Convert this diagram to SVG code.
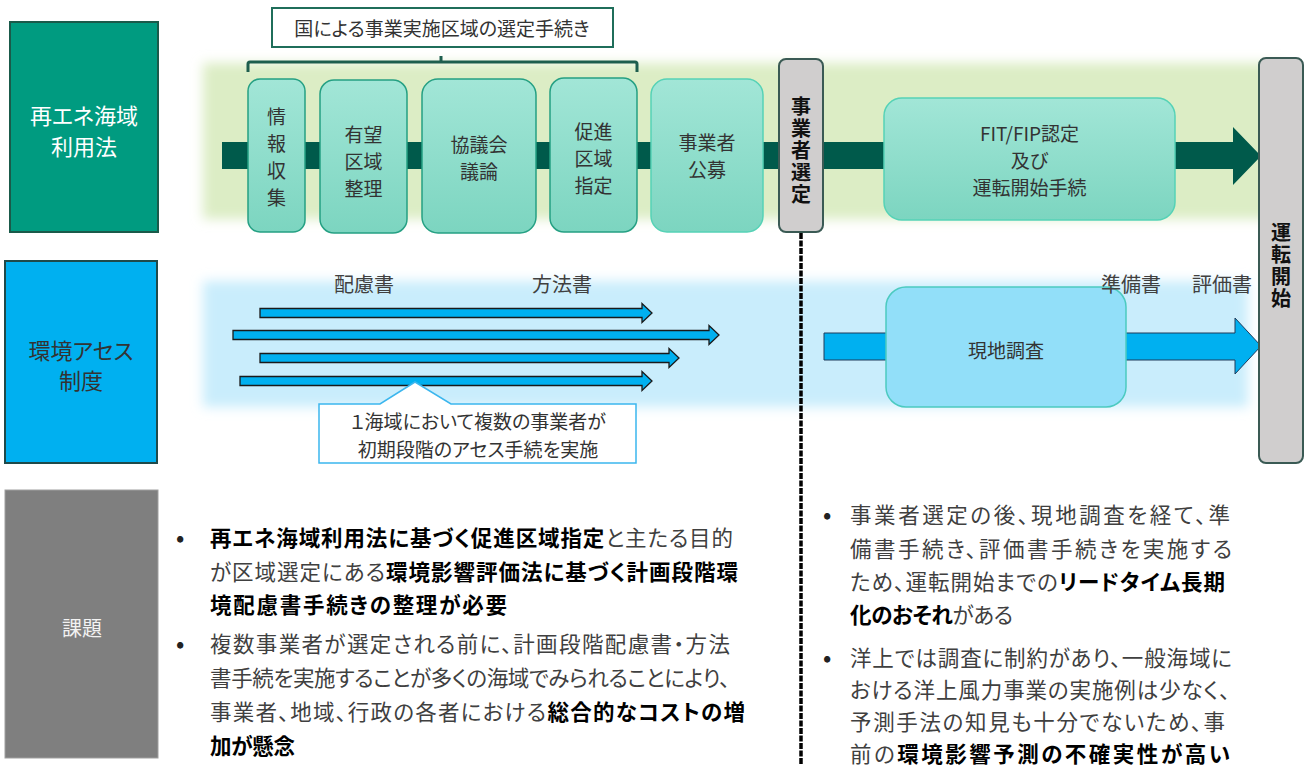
<svg xmlns="http://www.w3.org/2000/svg" width="1308" height="765" viewBox="0 0 1308 765">
<defs>
<style>
text { font-family: "Noto Sans CJK JP", "Noto Sans", sans-serif; font-feature-settings: "palt"; dominant-baseline: central; }
.box { font-size: 19px; fill: #333; text-anchor: middle; }
.lab { font-size: 20px; fill: #404040; text-anchor: middle; }
.bar { font-size: 20px; font-weight: bold; fill: #111; text-anchor: middle; writing-mode: vertical-rl; text-orientation: upright; letter-spacing: 2px; font-feature-settings: normal; }
.body { font-size: 21.5px; fill: #404040; }
.bul { font-size: 22px; font-weight: bold; fill: #222; }
.b { font-weight: bold; fill: #000; }
.teal { fill: url(#tg); stroke: #25a083; stroke-width: 1.5; }
.teal2 { fill: url(#tg); stroke: #55d2b6; stroke-width: 1.5; }
.gray { fill: #d0cece; stroke: #3a5a54; stroke-width: 2; }
.thin { fill: #00b0f0; stroke: #1a1a1a; stroke-width: 1.3; }
</style>
<linearGradient id="tg" x1="0" y1="0" x2="0" y2="1">
<stop offset="0" stop-color="#a2e6d7"/>
<stop offset="1" stop-color="#7cd5c0"/>
</linearGradient>
<filter id="soft" x="-5%" y="-20%" width="110%" height="140%">
<feGaussianBlur stdDeviation="6"/>
</filter>
</defs>
<rect width="1308" height="765" fill="#ffffff"/>

<g id="bands">
<rect x="203" y="63" width="1080" height="156" fill="#dcedc5" filter="url(#soft)"/>
<rect x="203" y="281" width="1045" height="126" fill="#c9edfc" filter="url(#soft)"/>
</g>

<g id="left-labels">
<g id="label-law">
<rect x="10" y="22" width="148" height="210" fill="#009b80" stroke="#1a5a4a" stroke-width="2"/>
<text x="84" y="114" font-size="22" fill="#fff" text-anchor="middle">再エネ海域</text>
<text x="84" y="145" font-size="22" fill="#fff" text-anchor="middle">利用法</text>
</g>
<g id="label-assess">
<rect x="5" y="261" width="152" height="202" fill="#00b0f0" stroke="#1f4a4a" stroke-width="2"/>
<text x="81" y="349" font-size="22" fill="#333" text-anchor="middle">環境アセス</text>
<text x="81" y="379" font-size="22" fill="#333" text-anchor="middle">制度</text>
</g>
<g id="label-issue">
<rect x="5" y="490" width="153" height="268" fill="#7f7f7f" stroke="#a0a0a0" stroke-width="1"/>
<text x="82" y="627" font-size="20" fill="#f2f2f2" text-anchor="middle">課題</text>
</g>
</g>

<g id="connectors">
<path d="M222,142 H1233 V127 L1261,156 L1233,185 V169 H222 Z" fill="#005a4b"/>
<path d="M248,72 V64 Q248,62 250,62 H635 Q637,62 637,64 V72 M441,62 V56" fill="none" stroke="#1e5e4e" stroke-width="3"/>
<path class="thin" d="M260,308.5 H642 V303.5 L652,313 L642,322.5 V317.5 H260 Z"/>
<path class="thin" d="M233,330.5 H709 V325.5 L719,335 L709,344.5 V339.5 H233 Z"/>
<path class="thin" d="M260,353.5 H669 V348.5 L679,358 L669,367.5 V362.5 H260 Z"/>
<path class="thin" d="M240,376.5 H642 V371.5 L652,381 L642,390.5 V385.5 H240 Z"/>
<path d="M824,333 H1235 V318 L1261,346 L1235,374 V360 H824 Z" fill="#00b0f0" stroke="#1f3a5a" stroke-width="1"/>
<line x1="801" y1="233" x2="801" y2="765" stroke="#000" stroke-width="3.5" stroke-dasharray="6 1.5"/>
</g>

<g id="title">
<rect x="272" y="8" width="341" height="39" fill="#fff" stroke="#1f6e5a" stroke-width="2"/>
<text x="442" y="27" font-size="19" fill="#333" text-anchor="middle">国による事業実施区域の選定手続き</text>
</g>

<g id="n-info">
<rect class="teal" x="248" y="79" width="57" height="153" rx="12"/>
<text class="box" x="276.5" y="115">情</text>
<text class="box" x="276.5" y="142">報</text>
<text class="box" x="276.5" y="169">収</text>
<text class="box" x="276.5" y="196">集</text>
</g>
<g id="n-promising">
<rect class="teal" x="320" y="80" width="87" height="153" rx="14"/>
<text class="box" x="363.5" y="133">有望</text>
<text class="box" x="363.5" y="160">区域</text>
<text class="box" x="363.5" y="187">整理</text>
</g>
<g id="n-council">
<rect class="teal" x="422" y="79" width="114" height="154" rx="16"/>
<text class="box" x="479" y="143">協議会</text>
<text class="box" x="479" y="170">議論</text>
</g>
<g id="n-promotion">
<rect class="teal" x="550" y="78" width="87" height="154" rx="14"/>
<text class="box" x="593.5" y="130">促進</text>
<text class="box" x="593.5" y="157">区域</text>
<text class="box" x="593.5" y="184">指定</text>
</g>
<g id="n-public">
<rect class="teal2" x="651" y="79" width="112" height="153" rx="16"/>
<text class="box" x="707" y="141">事業者</text>
<text class="box" x="707" y="168">公募</text>
</g>
<g id="n-select">
<rect class="gray" x="779" y="59" width="44" height="173" rx="7"/>
<text class="bar" x="801" y="151">事業者選定</text>
</g>
<g id="n-fit">
<rect class="teal2" x="884" y="98" width="291" height="122" rx="18"/>
<text class="box" x="1029.5" y="132">FIT/FIP認定</text>
<text class="box" x="1029.5" y="159">及び</text>
<text class="box" x="1029.5" y="186">運転開始手続</text>
</g>
<g id="n-start">
<rect class="gray" x="1259" y="58" width="44" height="405" rx="7"/>
<text class="bar" x="1281" y="266">運転開始</text>
</g>
<g id="n-survey">
<rect x="886" y="287" width="240" height="120" rx="20" fill="#92dff9" stroke="#4ccac0" stroke-width="1.5"/>
<text class="box" x="1006" y="349" font-size="20">現地調査</text>
</g>

<g id="doc-labels">
<text class="lab" x="364" y="283">配慮書</text>
<text class="lab" x="562" y="283">方法書</text>
<text class="lab" x="1131" y="283">準備書</text>
<text class="lab" x="1222" y="283">評価書</text>
</g>

<g id="callout">
<path d="M319,404 H380 L415,382 L451,404 H636 V463 H319 Z" fill="#fff" stroke="#3bb6ee" stroke-width="1.5"/>
<text x="478" y="420" font-size="19" fill="#333" text-anchor="middle">１海域において複数の事業者が</text>
<text x="478" y="448" font-size="19" fill="#333" text-anchor="middle">初期段階のアセス手続を実施</text>
</g>

<g id="issues-left">
<text class="bul" x="176" y="536">•</text>
<text class="body" x="210" y="536" textLength="523" lengthAdjust="spacing"><tspan class="b">再エネ海域利用法に基づく促進区域指定</tspan>と主たる目的</text>
<text class="body" x="210" y="570" textLength="528" lengthAdjust="spacing">が区域選定にある<tspan class="b">環境影響評価法に基づく計画段階環</tspan></text>
<text class="body" x="210" y="603" textLength="297" lengthAdjust="spacing"><tspan class="b">境配慮書手続きの整理が必要</tspan></text>
<text class="bul" x="176" y="642">•</text>
<text class="body" x="210" y="642" textLength="520" lengthAdjust="spacing">複数事業者が選定される前に、計画段階配慮書・方法</text>
<text class="body" x="210" y="676" textLength="520" lengthAdjust="spacing">書手続を実施することが多くの海域でみられることにより、</text>
<text class="body" x="210" y="710" textLength="535" lengthAdjust="spacing">事業者、地域、行政の各者における<tspan class="b">総合的なコストの増</tspan></text>
<text class="body" x="210" y="744" textLength="85" lengthAdjust="spacing"><tspan class="b">加が懸念</tspan></text>
</g>

<g id="issues-right">
<text class="bul" x="823" y="513">•</text>
<text class="body" x="850" y="513" textLength="380" lengthAdjust="spacing">事業者選定の後、現地調査を経て、準</text>
<text class="body" x="850" y="547" textLength="382" lengthAdjust="spacing">備書手続き、評価書手続きを実施する</text>
<text class="body" x="850" y="580" textLength="375" lengthAdjust="spacing">ため、運転開始までの<tspan class="b">リードタイム長期</tspan></text>
<text class="body" x="850" y="613" textLength="163" lengthAdjust="spacing"><tspan class="b">化のおそれ</tspan>がある</text>
<text class="bul" x="823" y="656">•</text>
<text class="body" x="850" y="656" textLength="382" lengthAdjust="spacing">洋上では調査に制約があり、一般海域に</text>
<text class="body" x="850" y="688" textLength="380" lengthAdjust="spacing">おける洋上風力事業の実施例は少なく、</text>
<text class="body" x="850" y="720" textLength="375" lengthAdjust="spacing">予測手法の知見も十分でないため、事</text>
<text class="body" x="850" y="752" textLength="380" lengthAdjust="spacing">前の<tspan class="b">環境影響予測の不確実性が高い</tspan></text>
</g>
</svg>
